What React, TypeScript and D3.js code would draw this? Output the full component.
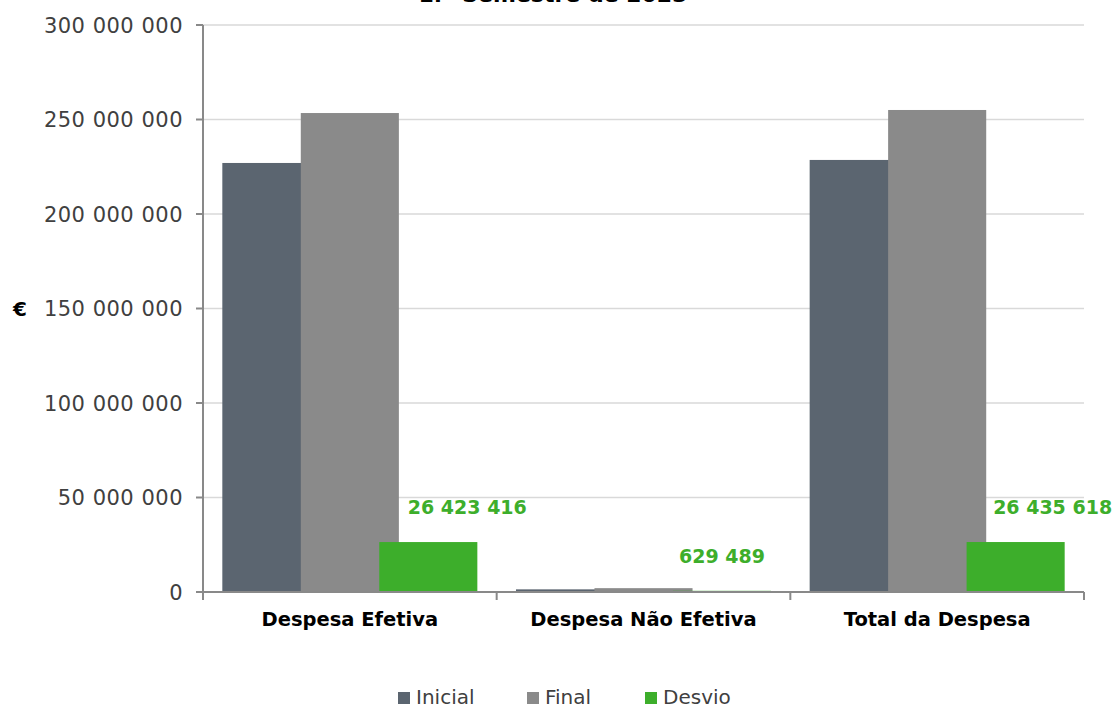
import React from "react";
import * as d3 from "d3";

const categories = ["Despesa Efetiva", "Despesa Não Efetiva", "Total da Despesa"];
const seriesNames = ["Inicial", "Final", "Desvio"];
const inicial = [227000000, 1400000, 228600000];
const final = [253423416, 2029489, 255035618];
const desvio = [26423416, 629489, 26435618];
const yTicks = [0, 50000000, 100000000, 150000000, 200000000, 250000000, 300000000];
const title = "1.º Semestre de 2023";

const colors = ["#5b6570", "#8a8a8a", "#3dae2b"];
const labelShift = [39, 0, 37];

const W = 1115;
const H = 709;
const left = 203;
const right = 1084;
const top = 25;
const bottom = 592;

const fmt = (v: number) => d3.format(",")(v).replace(/,/g, " ");

export default function App() {
  const x = d3.scaleBand<string>().domain(categories).range([left, right]);
  const y = d3.scaleLinear().domain([0, 300000000]).range([bottom, top]);
  const bw = x.bandwidth();
  const barW = bw * 0.334;
  const step = barW * 0.8;
  const groupW = step * 2 + barW;
  const pad = (bw - groupW) / 2;
  const series = [inicial, final, desvio];
  const font = "'DejaVu Sans', sans-serif";

  return (
    <svg
      width={W}
      height={H}
      style={{ position: "absolute", left: 0, top: 0, background: "#fff" }}
      fontFamily={font}
    >
      <text x={553} y={2} textAnchor="middle" fontWeight="bold" fontSize={22} fill="#000">
        {title}
      </text>
      {yTicks.map((t) => (
        <g key={t}>
          {t > 0 && (
            <line x1={left} x2={right} y1={y(t)} y2={y(t)} stroke="#d9d9d9" strokeWidth={1.5} />
          )}
          <line x1={left - 7} x2={left} y1={y(t)} y2={y(t)} stroke="#898989" strokeWidth={2} />
          <text
            x={183}
            y={y(t)}
            dy="0.36em"
            textAnchor="end"
            fontSize={21}
            fill="#404040"
            letterSpacing={0.5}
          >
            {fmt(t)}
          </text>
        </g>
      ))}
      <text x={20} y={y(150000000)} dy="0.36em" textAnchor="middle" fontWeight="bold" fontSize={20} fill="#000">
        €
      </text>
      {series.map((vals, si) =>
        categories.map((c, ci) => {
          const x0 = (x(c) as number) + pad + si * step;
          return (
            <rect
              key={si + "-" + ci}
              x={x0}
              y={y(vals[ci])}
              width={barW}
              height={bottom - y(vals[ci])}
              fill={colors[si]}
            />
          );
        })
      )}
      {categories.map((c, ci) => {
        const x0 = (x(c) as number) + pad + 2 * step;
        return (
          <text
            key={"lab" + ci}
            x={x0 + barW / 2 + labelShift[ci]}
            y={y(desvio[ci]) - 35}
            dy="0.36em"
            textAnchor="middle"
            fontWeight="bold"
            fontSize={19}
            fill="#3dae2b"
          >
            {fmt(desvio[ci])}
          </text>
        );
      })}
      <line x1={left} x2={left} y1={top} y2={bottom} stroke="#898989" strokeWidth={2} />
      <line x1={left - 7} x2={right} y1={bottom} y2={bottom} stroke="#898989" strokeWidth={2} />
      {[...categories.map((c) => x(c) as number), right].map((tx, i) => (
        <line key={"xt" + i} x1={tx} x2={tx} y1={bottom} y2={bottom + 8} stroke="#898989" strokeWidth={2} />
      ))}
      {categories.map((c) => (
        <text
          key={"cat" + c}
          x={(x(c) as number) + bw / 2}
          y={619}
          dy="0.36em"
          textAnchor="middle"
          fontWeight="bold"
          fontSize={19.5}
          fill="#000"
        >
          {c}
        </text>
      ))}
      {seriesNames.map((s, i) => {
        const lx = [398, 527, 645][i];
        return (
          <g key={"leg" + s}>
            <rect x={lx} y={692} width={12} height={12} fill={colors[i]} />
            <text x={lx + 18} y={697} dy="0.36em" fontSize={20} fill="#404040">
              {s}
            </text>
          </g>
        );
      })}
    </svg>
  );
}
